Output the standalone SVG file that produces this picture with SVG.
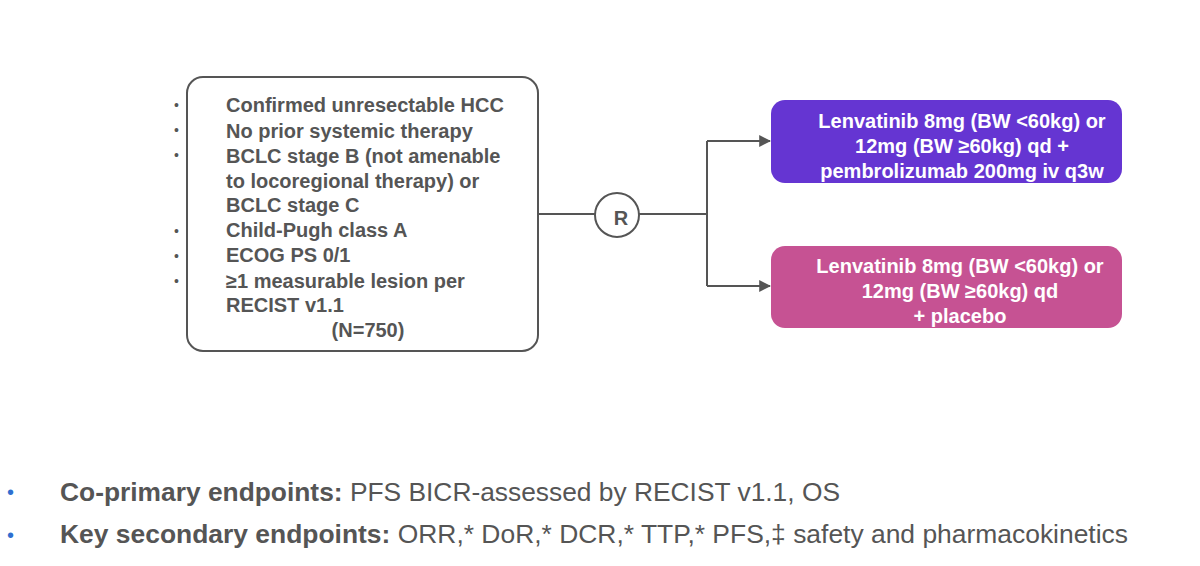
<svg xmlns="http://www.w3.org/2000/svg" width="1200" height="566" viewBox="0 0 1200 566">
<style>
text{font-family:"Liberation Sans",Arial,sans-serif}
.c{font-size:20px;font-weight:bold;fill:#555}
.b{font-size:14px;fill:#555}
.w{font-size:20px;font-weight:bold;fill:#fff}
.e{font-size:25px;fill:#555}
.ln{stroke:#555;stroke-width:2;fill:none}
</style>
<defs><marker id="a" viewBox="0 0 10 10" refX="9" refY="5" markerWidth="6" markerHeight="6" orient="auto"><path d="M0 0L10 5L0 10z" fill="#555"/></marker></defs>
<rect width="1200" height="566" fill="#fff"/>
<g id="criteria">
<rect x="187" y="77" width="351" height="274" rx="16" fill="#fff" stroke="#555" stroke-width="2"/>
<g class="b"><text x="174" y="110">•</text><text x="174" y="135">•</text><text x="174" y="160">•</text><text x="174" y="236">•</text><text x="174" y="261">•</text><text x="174" y="286">•</text></g>
<g class="c"><text x="226" y="112">Confirmed unresectable HCC</text><text x="226" y="138">No prior systemic therapy</text><text x="226" y="163">BCLC stage B (not amenable</text><text x="226" y="188">to locoregional therapy) or</text><text x="226" y="212">BCLC stage C</text><text x="226" y="237">Child-Pugh class A</text><text x="226" y="262">ECOG PS 0/1</text><text x="226" y="288">≥1 measurable lesion per</text><text x="226" y="312">RECIST v1.1</text><text x="368" y="337" text-anchor="middle">(N=750)</text></g>
</g>
<g id="R"><circle cx="617" cy="215" r="22" fill="#fff" stroke="#555" stroke-width="2"/><text x="621" y="225" class="c" text-anchor="middle">R</text></g>
<g id="connectors">
<path class="ln" d="M538 214H595M639 214H707M707 141V286"/>
<path class="ln" d="M707 141H770" marker-end="url(#a)"/>
<path class="ln" d="M707 286H770" marker-end="url(#a)"/>
</g>
<g id="arm1"><rect x="771" y="100" width="351" height="83" rx="14" fill="#6535d2"/>
<g class="w" text-anchor="middle"><text x="962" y="128">Lenvatinib 8mg (BW &lt;60kg) or</text><text x="962" y="153">12mg (BW ≥60kg) qd +</text><text x="962" y="178">pembrolizumab 200mg iv q3w</text></g></g>
<g id="arm2"><rect x="771" y="246" width="351" height="82" rx="14" fill="#c65293"/>
<g class="w" text-anchor="middle"><text x="960" y="273">Lenvatinib 8mg (BW &lt;60kg) or</text><text x="960" y="298">12mg (BW ≥60kg) qd</text><text x="960" y="323">+ placebo</text></g></g>
<g id="endpoints">
<text x="7" y="499" font-size="20" fill="#2f6fd0">•</text><text x="7" y="542" font-size="20" fill="#2f6fd0">•</text>
<text x="60" y="501" class="e" textLength="780" lengthAdjust="spacingAndGlyphs"><tspan font-weight="bold">Co-primary endpoints:</tspan> PFS BICR-assessed by RECIST v1.1, OS</text>
<text x="60" y="543" class="e" textLength="1068" lengthAdjust="spacingAndGlyphs"><tspan font-weight="bold">Key secondary endpoints:</tspan> ORR,* DoR,* DCR,* TTP,* PFS,‡ safety and pharmacokinetics</text>
</g>
</svg>
